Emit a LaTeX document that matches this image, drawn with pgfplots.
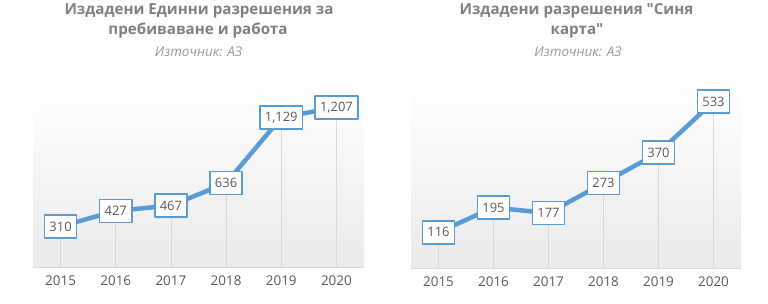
\documentclass[border=0pt]{standalone}
\usepackage{fontspec}
\setmainfont{Open Sans}
\usepackage{pgfplots}
\pgfplotsset{compat=1.18}
\definecolor{lineblue}{HTML}{5B9BD5}
\definecolor{titlegray}{HTML}{808080}
\definecolor{subgray}{HTML}{999999}
\definecolor{ticklab}{HTML}{595959}
\definecolor{gridgray}{HTML}{D9D9D9}
\pgfplotsset{
  /pgf/number format/assume math mode=true,
  /pgf/number format/1000 sep={,},
  mystyle/.style={
    scale only axis, anchor=south west,
    xmin=-0.5, xmax=5.5, ymin=0,
    axis y line=none, axis x line*=bottom,
    xtick={0,1,2,3,4,5},
    xticklabels={2015,2016,2017,2018,2019,2020},
    x axis line style={draw=gridgray, line width=1bp, -},
    major tick length=0pt,
    xticklabel style={font=\fontsize{13.5}{15}\selectfont, text=ticklab, yshift=-5bp},
    axis background/.style={shade, top color=white, bottom color=black!8},
    clip=false,
  },
  lab/.style={
    lineblue, line width=4.5bp, line join=round, mark=none,
    nodes near coords,
    every node near coord/.style={draw=lineblue, fill=white, line width=1.6bp,
      inner xsep=5bp, inner ysep=0bp, minimum height=23bp, text=ticklab,
      font=\fontsize{13}{15}\selectfont, anchor=center},
  },
  drop/.style={ycomb, draw=gridgray, line width=0.8bp, mark=none},
}
\begin{document}
\begin{tikzpicture}[x=1bp,y=1bp]
\path (0,0) rectangle (768bp,303bp);
\node[font=\bfseries\fontsize{15.2}{18}\selectfont, text=titlegray] at (199bp,293bp) {Издадени Единни разрешения за};
\node[font=\bfseries\fontsize{15.2}{18}\selectfont, text=titlegray] at (198bp,273bp) {пребиваване и работа};
\node[font=\itshape\fontsize{13.5}{15}\selectfont, text=subgray] at (198.5bp,252bp) {Източник: АЗ};
\node[font=\bfseries\fontsize{15.2}{18}\selectfont, text=titlegray] at (576.5bp,293bp) {Издадени разрешения \textquotedbl Синя};
\node[font=\bfseries\fontsize{15.2}{18}\selectfont, text=titlegray] at (577bp,273bp) {карта\textquotedbl};
\node[font=\itshape\fontsize{13.5}{15}\selectfont, text=subgray] at (578bp,252bp) {Източник: АЗ};

\begin{axis}[mystyle, at={(33bp,36bp)}, width=331bp, height=186bp, ymax=1400]
\addplot[drop] coordinates {(0,310) (1,427) (2,467) (3,636) (4,1129) (5,1207)};
\addplot[lab] coordinates {(0,310) (1,427) (2,467) (3,636) (4,1129) (5,1207)};
\end{axis}

\begin{axis}[mystyle, at={(411bp,35bp)}, width=330bp, height=188bp, ymax=600]
\addplot[drop] coordinates {(0,116) (1,195) (2,177) (3,273) (4,370) (5,533)};
\addplot[lab] coordinates {(0,116) (1,195) (2,177) (3,273) (4,370) (5,533)};
\end{axis}
\end{tikzpicture}
\end{document}
